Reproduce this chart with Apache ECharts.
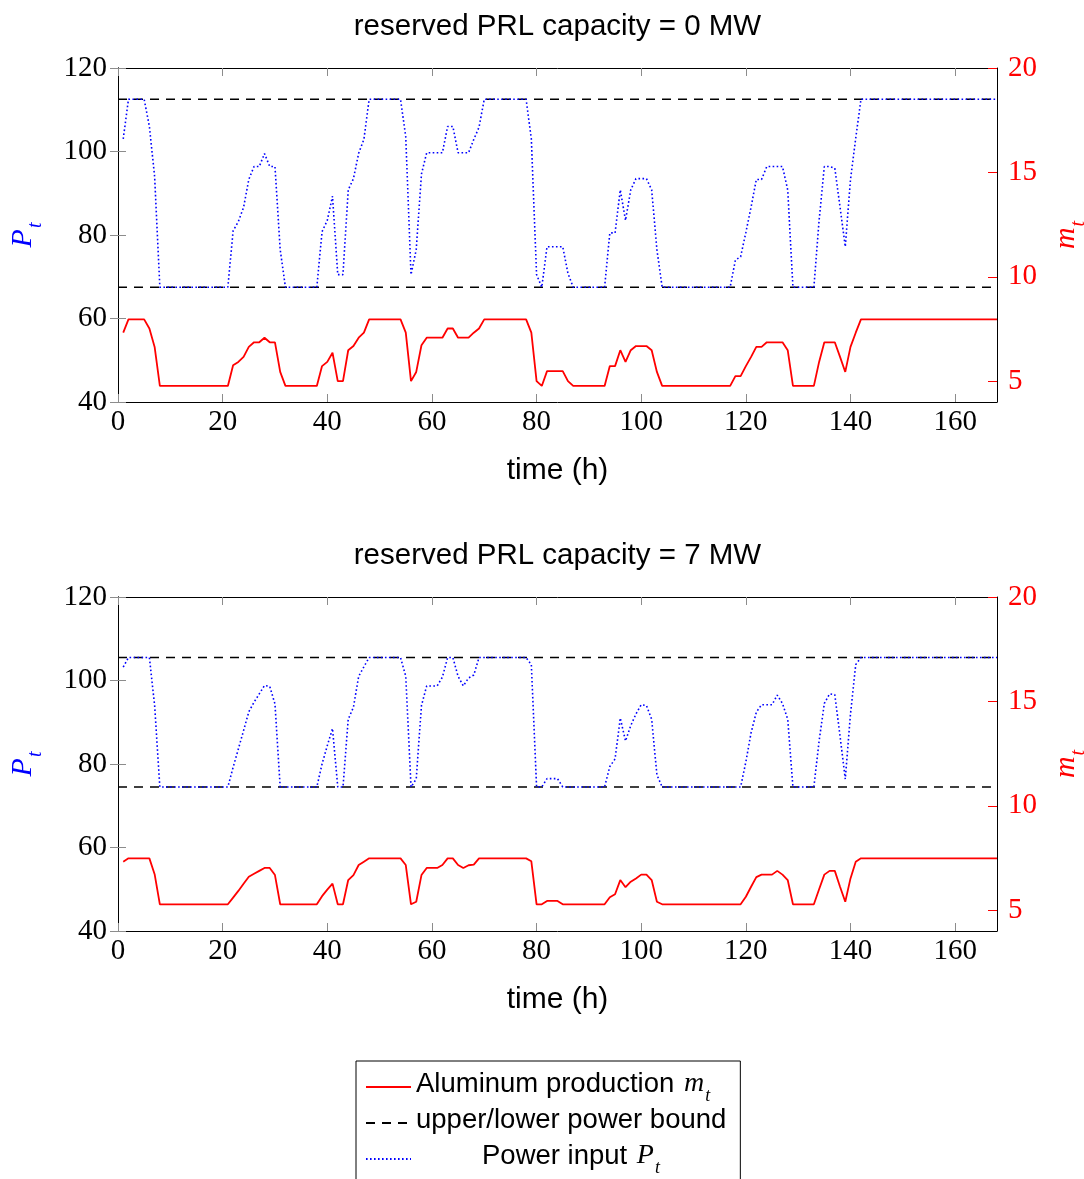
<!DOCTYPE html>
<html>
<head>
<meta charset="utf-8">
<title>PRL capacity</title>
<script src="https://cdn.jsdelivr.net/npm/echarts@6.0.0/dist/echarts.min.js"></script>
<style>
  html, body { margin: 0; padding: 0; background: #fff; }
  #chart { width: 1084px; height: 1179px; }
</style>
</head>
<body>
<div id="chart"></div>
<script>
// ===== data (t = 1..168 h) =====
// power input P_t, reserved PRL = 0 MW
const power0 = [
  103, 112.5, 112.5, 112.5, 112.5, 106, 94, 67.5, 67.5, 67.5, 67.5, 67.5,
  67.5, 67.5, 67.5, 67.5, 67.5, 67.5, 67.5, 67.5, 67.5, 81, 83.2, 86.6,
  93.3, 96.4, 96.4, 99.5, 96.4, 96.4, 76.5, 67.5, 67.5, 67.5, 67.5, 67.5,
  67.5, 67.5, 80.8, 83.5, 89.3, 70.5, 70.5, 90.8, 93.5, 99.6, 102.9, 112.5,
  112.5, 112.5, 112.5, 112.5, 112.5, 112.5, 103.5, 70.5, 76.5, 94.6, 99.7, 99.7,
  99.7, 99.7, 106, 106, 99.7, 99.7, 99.7, 102.9, 105.8, 112.5, 112.5, 112.5,
  112.5, 112.5, 112.5, 112.5, 112.5, 112.5, 103, 70.5, 67.5, 77.2, 77.2, 77.2,
  77.2, 70.8, 67.5, 67.5, 67.5, 67.5, 67.5, 67.5, 67.5, 80.5, 80.5, 90.8,
  83.5, 90.8, 93.5, 93.5, 93.5, 90.8, 76.5, 67.5, 67.5, 67.5, 67.5, 67.5,
  67.5, 67.5, 67.5, 67.5, 67.5, 67.5, 67.5, 67.5, 67.5, 74, 74.8, 80.6,
  86.7, 93.3, 93.3, 96.4, 96.4, 96.4, 96.4, 90.8, 67.5, 67.5, 67.5, 67.5,
  67.5, 83.5, 96.4, 96.4, 96, 86.7, 77.2, 93.3, 103.2, 112.5, 112.5, 112.5,
  112.5, 112.5, 112.5, 112.5, 112.5, 112.5, 112.5, 112.5, 112.5, 112.5, 112.5, 112.5,
  112.5, 112.5, 112.5, 112.5, 112.5, 112.5, 112.5, 112.5, 112.5, 112.5, 112.5, 112.5
];
// aluminum production m_t, reserved PRL = 0 MW
const alu0 = [
  7.32, 7.96, 7.96, 7.96, 7.96, 7.52, 6.64, 4.77, 4.77, 4.77, 4.77, 4.77,
  4.77, 4.77, 4.77, 4.77, 4.77, 4.77, 4.77, 4.77, 4.77, 5.76, 5.92, 6.16,
  6.64, 6.86, 6.86, 7.08, 6.86, 6.86, 5.44, 4.77, 4.77, 4.77, 4.77, 4.77,
  4.77, 4.77, 5.72, 5.92, 6.36, 5.0, 5.0, 6.48, 6.68, 7.08, 7.32, 7.96,
  7.96, 7.96, 7.96, 7.96, 7.96, 7.96, 7.32, 5.0, 5.44, 6.72, 7.08, 7.08,
  7.08, 7.08, 7.52, 7.52, 7.08, 7.08, 7.08, 7.32, 7.52, 7.96, 7.96, 7.96,
  7.96, 7.96, 7.96, 7.96, 7.96, 7.96, 7.32, 5.0, 4.77, 5.48, 5.48, 5.48,
  5.48, 5.0, 4.77, 4.77, 4.77, 4.77, 4.77, 4.77, 4.77, 5.72, 5.72, 6.48,
  5.92, 6.48, 6.68, 6.68, 6.68, 6.48, 5.44, 4.77, 4.77, 4.77, 4.77, 4.77,
  4.77, 4.77, 4.77, 4.77, 4.77, 4.77, 4.77, 4.77, 4.77, 5.24, 5.24, 5.72,
  6.16, 6.64, 6.64, 6.86, 6.86, 6.86, 6.86, 6.48, 4.77, 4.77, 4.77, 4.77,
  4.77, 5.92, 6.86, 6.86, 6.86, 6.16, 5.44, 6.64, 7.32, 7.96, 7.96, 7.96,
  7.96, 7.96, 7.96, 7.96, 7.96, 7.96, 7.96, 7.96, 7.96, 7.96, 7.96, 7.96,
  7.96, 7.96, 7.96, 7.96, 7.96, 7.96, 7.96, 7.96, 7.96, 7.96, 7.96, 7.96
];
// power input P_t, reserved PRL = 7 MW
const power7 = [
  103.2, 105.5, 105.5, 105.5, 105.5, 105.5, 94, 74.5, 74.5, 74.5, 74.5, 74.5,
  74.5, 74.5, 74.5, 74.5, 74.5, 74.5, 74.5, 74.5, 74.5, 79.2, 83.6, 88,
  92.5, 94.8, 96.8, 98.8, 98.6, 94.4, 74.5, 74.5, 74.5, 74.5, 74.5, 74.5,
  74.5, 74.5, 80, 84.4, 88.5, 74.5, 74.5, 90.7, 93.6, 101, 103.3, 105.5,
  105.5, 105.5, 105.5, 105.5, 105.5, 105.5, 101, 74.5, 76.4, 94, 98.7, 98.7,
  98.7, 100.8, 105.5, 105.5, 101, 98.7, 100.6, 101.3, 105.5, 105.5, 105.5, 105.5,
  105.5, 105.5, 105.5, 105.5, 105.5, 105.5, 103.8, 74.5, 74.5, 76.5, 76.5, 76.5,
  74.5, 74.5, 74.5, 74.5, 74.5, 74.5, 74.5, 74.5, 74.5, 79.4, 81.2, 91,
  85.5, 89.2, 92, 94.2, 94, 90.7, 77.4, 74.5, 74.5, 74.5, 74.5, 74.5,
  74.5, 74.5, 74.5, 74.5, 74.5, 74.5, 74.5, 74.5, 74.5, 74.5, 74.5, 80.5,
  87.5, 92.4, 94.2, 94.2, 94.2, 96.5, 94.5, 90.7, 74.5, 74.5, 74.5, 74.5,
  74.5, 85.5, 94.5, 96.8, 96.6, 86.7, 76.4, 92, 103.8, 105.5, 105.5, 105.5,
  105.5, 105.5, 105.5, 105.5, 105.5, 105.5, 105.5, 105.5, 105.5, 105.5, 105.5, 105.5,
  105.5, 105.5, 105.5, 105.5, 105.5, 105.5, 105.5, 105.5, 105.5, 105.5, 105.5, 105.5
];
// aluminum production m_t, reserved PRL = 7 MW
const alu7 = [
  7.32, 7.48, 7.48, 7.48, 7.48, 7.48, 6.72, 5.28, 5.28, 5.28, 5.28, 5.28,
  5.28, 5.28, 5.28, 5.28, 5.28, 5.28, 5.28, 5.28, 5.28, 5.6, 5.92, 6.26,
  6.6, 6.74, 6.88, 7.02, 7.02, 6.68, 5.28, 5.28, 5.28, 5.28, 5.28, 5.28,
  5.28, 5.28, 5.67, 5.98, 6.27, 5.28, 5.28, 6.44, 6.68, 7.16, 7.32, 7.48,
  7.48, 7.48, 7.48, 7.48, 7.48, 7.48, 7.16, 5.28, 5.4, 6.68, 7.02, 7.02,
  7.02, 7.16, 7.48, 7.48, 7.16, 7.02, 7.15, 7.18, 7.48, 7.48, 7.48, 7.48,
  7.48, 7.48, 7.48, 7.48, 7.48, 7.48, 7.34, 5.28, 5.28, 5.44, 5.44, 5.44,
  5.28, 5.28, 5.28, 5.28, 5.28, 5.28, 5.28, 5.28, 5.28, 5.62, 5.76, 6.44,
  6.1, 6.36, 6.52, 6.7, 6.7, 6.44, 5.4, 5.28, 5.28, 5.28, 5.28, 5.28,
  5.28, 5.28, 5.28, 5.28, 5.28, 5.28, 5.28, 5.28, 5.28, 5.28, 5.28, 5.64,
  6.12, 6.58, 6.7, 6.7, 6.7, 6.88, 6.7, 6.44, 5.28, 5.28, 5.28, 5.28,
  5.28, 6.0, 6.7, 6.88, 6.88, 6.12, 5.4, 6.52, 7.32, 7.48, 7.48, 7.48,
  7.48, 7.48, 7.48, 7.48, 7.48, 7.48, 7.48, 7.48, 7.48, 7.48, 7.48, 7.48,
  7.48, 7.48, 7.48, 7.48, 7.48, 7.48, 7.48, 7.48, 7.48, 7.48, 7.48, 7.48
];
// lower / upper power bound for each panel
const bounds0 = [67.5, 112.5];
const bounds7 = [74.5, 105.5];
const titles = ['reserved PRL capacity = 0 MW', 'reserved PRL capacity = 7 MW'];

// ticks
const xTicks = [0, 20, 40, 60, 80, 100, 120, 140, 160];
const mTicks = [5, 10, 15, 20];
const hours = power0.map((_, i) => i + 1); // hourly steps 1..168

const NAME_ALU = 'Aluminum production';
const NAME_BOUND = 'upper/lower power bound';
const NAME_POWER = 'Power input';

const SERIF = '"Liberation Serif", "DejaVu Serif", serif';
const SANS = '"Liberation Sans", Arial, sans-serif';
const TICK_GRAY = '#8c8c8c';

const grids = [
  { left: 118, top: 68, width: 879, height: 334, outerBoundsMode: 'none' },
  { left: 118, top: 597, width: 879, height: 334, outerBoundsMode: 'none' }
];

const subName = (color) => ({
  color: color,
  rich: {
    b: { fontFamily: SERIF, fontStyle: 'italic', fontSize: 30, lineHeight: 30, padding: [0, 0, 8, 0], color: color },
    s: { fontFamily: SERIF, fontStyle: 'italic', fontSize: 20, lineHeight: 20, padding: [18, 0, 0, 1], color: color }
  }
});

const xAxes = [];
const yAxes = [];
const series = [];

[0, 1].forEach((g) => {
  const power = g === 0 ? power0 : power7;
  const alu = g === 0 ? alu0 : alu7;
  const bounds = g === 0 ? bounds0 : bounds7;

  // bottom axis with labels
  xAxes.push({
    gridIndex: g, type: 'value', min: 0, max: 168, position: 'bottom',
    name: 'time (h)', nameLocation: 'middle', nameGap: 54,
    nameTextStyle: { fontFamily: SANS, fontSize: 30, color: '#000' },
    axisLine: { lineStyle: { color: '#000', width: 1 } },
    axisTick: { inside: true, length: 8, customValues: xTicks, lineStyle: { color: TICK_GRAY } },
    axisLabel: { customValues: xTicks, fontFamily: SERIF, fontSize: 29, color: '#000', margin: 6 },
    splitLine: { show: false }
  });
  // top mirror axis, carries the panel title
  xAxes.push({
    gridIndex: g, type: 'value', min: 0, max: 168, position: 'top',
    name: titles[g], nameLocation: 'middle', nameGap: 26,
    nameTextStyle: { fontFamily: SANS, fontSize: 29.5, color: '#000' },
    axisLine: { lineStyle: { color: '#000', width: 1 } },
    axisTick: { inside: true, length: 8, customValues: xTicks, lineStyle: { color: TICK_GRAY } },
    axisLabel: { show: false },
    splitLine: { show: false }
  });

  // left P axis
  yAxes.push({
    gridIndex: g, type: 'value', min: 40, max: 120, interval: 20, position: 'left',
    name: '{b|P}{s|t}', nameLocation: 'middle', nameRotate: 90, nameGap: 76,
    nameTextStyle: subName('#0000ff'),
    axisLine: { lineStyle: { color: '#000', width: 1 } },
    axisTick: { inside: true, length: 8, lineStyle: { color: TICK_GRAY } },
    axisLabel: { fontFamily: SERIF, fontSize: 29, color: '#000', margin: 11 },
    splitLine: { show: false }
  });
  // right mirror of P ticks
  yAxes.push({
    gridIndex: g, type: 'value', min: 40, max: 120, interval: 20, position: 'right',
    axisLine: { lineStyle: { color: '#000', width: 1 } },
    axisTick: { inside: true, length: 8, lineStyle: { color: TICK_GRAY } },
    axisLabel: { show: false },
    splitLine: { show: false }
  });
  // right m axis
  yAxes.push({
    gridIndex: g, type: 'value', min: 4, max: 20, position: 'right',
    name: '{b|m}{s|t}', nameLocation: 'middle', nameRotate: 90, nameGap: 58,
    nameTextStyle: subName('#ff0000'),
    axisLine: { lineStyle: { color: '#000', width: 1 } },
    axisTick: { inside: true, length: 9, customValues: mTicks, lineStyle: { color: '#ff0000' } },
    axisLabel: { customValues: mTicks, fontFamily: SERIF, fontSize: 29, color: '#ff0000', margin: 11 },
    splitLine: { show: false }
  });

  const xi = g * 2;
  const yP = g * 3;
  const yM = g * 3 + 2;

  series.push({
    name: NAME_ALU, type: 'line', xAxisIndex: xi, yAxisIndex: yM,
    data: hours.map((t, i) => [t, alu[i]]),
    symbol: 'none', z: 2,
    lineStyle: { color: '#ff0000', width: 1.8 },
    itemStyle: { color: '#ff0000' }
  });
  bounds.forEach((b) => {
    series.push({
      name: NAME_BOUND, type: 'line', xAxisIndex: xi, yAxisIndex: yP,
      data: [[0, b], [168, b]],
      symbol: 'none', z: 3,
      lineStyle: { color: '#000', width: 1.4, type: [9, 7] },
      itemStyle: { color: '#000' }
    });
  });
  series.push({
    name: NAME_POWER, type: 'line', xAxisIndex: xi, yAxisIndex: yP,
    data: hours.map((t, i) => [t, power[i]]),
    symbol: 'none', z: 4,
    lineStyle: { color: '#0000ff', width: 1.6, type: [1.6, 2.4] },
    itemStyle: { color: '#0000ff' }
  });
});

const legendLabel = {
  [NAME_ALU]: '{n|Aluminum production }{b|m}{s|t}',
  [NAME_BOUND]: '{n|upper/lower power bound}',
  [NAME_POWER]: '{g| }{n|Power input }{b|P}{s|t}'
};

const option = {
  animation: false,
  backgroundColor: '#fff',
  textStyle: { fontFamily: SANS },
  grid: grids,
  xAxis: xAxes,
  yAxis: yAxes,
  legend: {
    orient: 'vertical',
    left: 356, top: 1061, height: 300,
    itemWidth: 45, itemHeight: 14, itemGap: 1,
    padding: [8, 14, 40, 9],
    borderColor: '#000', borderWidth: 1,
    selectedMode: false,
    itemStyle: { color: 'rgba(0,0,0,0)', borderColor: 'rgba(0,0,0,0)', borderWidth: 0 },
    data: [NAME_ALU, NAME_BOUND, NAME_POWER],
    formatter: (name) => legendLabel[name],
    textStyle: {
      color: '#000',
      rich: {
        n: { fontFamily: SANS, fontSize: 27.5, lineHeight: 30, padding: [0, 0, 6, 0], color: '#000' },
        g: { fontFamily: SANS, fontSize: 27.5, lineHeight: 30, width: 66, padding: [0, 0, 6, 0] },
        b: { fontFamily: SERIF, fontStyle: 'italic', fontSize: 28, lineHeight: 30, padding: [0, 0, 6, 2], color: '#000' },
        s: { fontFamily: SERIF, fontStyle: 'italic', fontSize: 18, lineHeight: 18, padding: [18, 0, 0, 1], color: '#000' }
      }
    }
  },
  series: series
};

const chart = echarts.init(document.getElementById('chart'), null, { renderer: 'canvas' });
chart.setOption(option);
</script>
</body>
</html>
